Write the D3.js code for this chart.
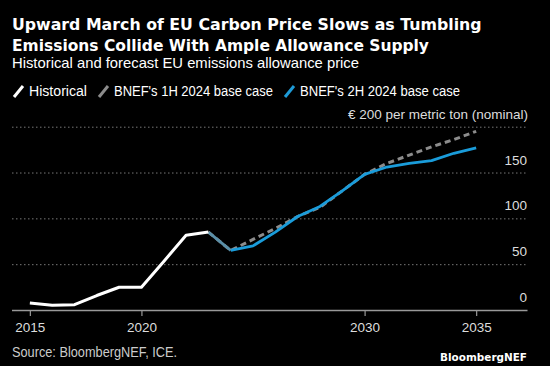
<!DOCTYPE html>
<html><head><meta charset="utf-8">
<script src="https://cdn.jsdelivr.net/npm/d3@7"></script>
<style>
html,body{margin:0;padding:0;background:#000;}
svg{display:block;}
</style></head>
<body>
<script>
const years = [2015,2016,2017,2018,2019,2020,2021,2022,2023];
const historical = [7.7,5.3,5.8,15.8,24.8,24.8,53,81.5,85];
const fcYears = [2023,2024,2025,2026,2027,2028,2029,2030,2031,2032,2033,2034,2035];
const base1H = [85,65,77,89,102,112,130,148,160,169,178,186,195];
const base2H = [85,65,70,85,102,113,130,148,156,160,163,171,177];
const yTicks = [0,50,100,150,200];
const xTicks = [2015,2020,2030,2035];

const W=550,H=366;
const svg=d3.select("body").append("svg").attr("width",W).attr("height",H).style("background","#000");
const font="'DejaVu Sans', Verdana, sans-serif";
const font2="'Liberation Sans', Arial, sans-serif";

function fit(sel,target){
  const n=sel.node(); const w=n.getComputedTextLength();
  const fs=parseFloat(sel.attr("font-size"));
  sel.attr("font-size",(fs*target/w).toFixed(2));
}
function squeeze(sel,target){
  sel.attr("textLength",target).attr("lengthAdjust","spacingAndGlyphs");
}

const x=d3.scaleLinear().domain([2014.2,2037.3]).range([12,527.5]);
const y=d3.scaleLinear().domain([0,200]).range([310,126.7]);

// titles
fit(svg.append("text").attr("x",12).attr("y",30).attr("fill","#fff").attr("font-family",font).attr("font-weight","bold").attr("font-size",16).text("Upward March of EU Carbon Price Slows as Tumbling"),470);
fit(svg.append("text").attr("x",12).attr("y",50.5).attr("fill","#fff").attr("font-family",font).attr("font-weight","bold").attr("font-size",16).text("Emissions Collide With Ample Allowance Supply"),417);
squeeze(svg.append("text").attr("x",12).attr("y",68).attr("fill","#fff").attr("font-family",font2).attr("font-size",14.5).text("Historical and forecast EU emissions allowance price"),347);

// legend
const leg=[{t:"Historical",c:"#fff",x0:12,tx:29,w:58},{t:"BNEF's 1H 2024 base case",c:"#8c8c8c",x0:97,tx:114,w:159},{t:"BNEF's 2H 2024 base case",c:"#1e9bd7",x0:283,tx:300,w:160}];
leg.forEach(l=>{
  svg.append("line").attr("x1",l.x0+2).attr("y1",97).attr("x2",l.x0+11).attr("y2",86).attr("stroke",l.c).attr("stroke-width",3);
  squeeze(svg.append("text").attr("x",l.tx).attr("y",96).attr("fill","#fff").attr("font-family",font2).attr("font-size",14).text(l.t),l.w);
});

// grid
svg.append("g").selectAll("line").data(yTicks.filter(d=>d>0)).join("line")
 .attr("x1",12).attr("x2",527.5).attr("y1",d=>y(d)+0.5).attr("y2",d=>y(d)+0.5)
 .attr("stroke","#777").attr("stroke-width",1).attr("stroke-dasharray","1.5,2.5");

// y labels
svg.append("g").selectAll("text").data(yTicks.filter(d=>d<200)).join("text")
 .attr("x",527).attr("y",d=>y(d)-8).attr("text-anchor","end").attr("fill","#ddd")
 .attr("font-family",font2).attr("font-size",13.5).text(d=>d);
svg.append("text").attr("x",528).attr("y",119).attr("text-anchor","end").attr("fill","#ddd")
 .attr("font-family",font2).attr("font-size",13.5).text("€ 200 per metric ton (nominal)");

// x axis
const xa=svg.append("g").attr("transform","translate(0,310)")
 .call(d3.axisBottom(x).tickValues(xTicks).tickFormat(d3.format("d")).tickSize(6).tickPadding(6));
xa.select(".domain").attr("d","M12,0.5H527.5").attr("stroke","#999").attr("stroke-width",1.5);
xa.selectAll(".tick line").attr("stroke","#999").attr("stroke-width",1.2);
xa.selectAll(".tick text").attr("fill","#ddd").attr("font-family",font2).attr("font-size",13.5);

const line=d3.line().x(d=>x(d[0])).y(d=>y(d[1]));
svg.append("path").datum(fcYears.map((d,i)=>[d,base1H[i]])).attr("d",line)
 .attr("fill","none").attr("stroke","#8c8c8c").attr("stroke-width",3).attr("stroke-dasharray","6,4");
svg.append("path").datum(fcYears.map((d,i)=>[d,base2H[i]]).slice(1)).attr("d",line)
 .attr("fill","none").attr("stroke","#1a9cda").attr("stroke-width",2.8).attr("stroke-linejoin","round");
svg.append("path").datum(fcYears.map((d,i)=>[d,base1H[i]]).slice(0,2)).attr("d",line)
 .attr("fill","none").attr("stroke","#5a8fa8").attr("stroke-width",2.8);
svg.append("path").datum(years.map((d,i)=>[d,historical[i]])).attr("d",line)
 .attr("fill","none").attr("stroke","#fff").attr("stroke-width",3).attr("stroke-linejoin","round");

// footer
squeeze(svg.append("text").attr("x",12).attr("y",357).attr("fill","#ccc").attr("font-family",font2).attr("font-size",14).text("Source: BloombergNEF, ICE."),165);
fit(svg.append("text").attr("x",527).attr("y",361).attr("text-anchor","end").attr("fill","#fff").attr("font-family",font).attr("font-weight","bold").attr("font-size",12).text("BloombergNEF"),87);
</script>
</body></html>
